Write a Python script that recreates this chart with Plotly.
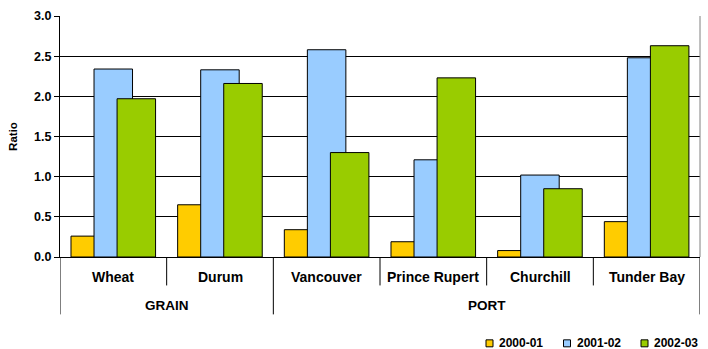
import plotly.graph_objects as go

categories = ["Wheat", "Durum", "Vancouver", "Prince Rupert", "Churchill", "Tunder Bay"]
groups = ["GRAIN", "GRAIN", "PORT", "PORT", "PORT", "PORT"]
series_names = ["2000-01", "2001-02", "2002-03"]
v2000_01 = [0.26, 0.65, 0.34, 0.19, 0.08, 0.44]
v2001_02 = [2.34, 2.33, 2.58, 1.21, 1.02, 2.48]
v2002_03 = [1.97, 2.16, 1.30, 2.23, 0.85, 2.63]
y_ticks = [0.0, 0.5, 1.0, 1.5, 2.0, 2.5, 3.0]

colors = ["#FFCC00", "#99CCFF", "#99CC00"]
offsets = [-0.397, -0.181, 0.035]
bar_w = 0.361
FONT = "Liberation Sans, Arial, sans-serif"

# plot-area geometry (pixels)
L, R, T, B = 60, 8, 16, 91.5
W_PX, H_PX = 708, 349
PW = W_PX - L - R
PH = H_PX - T - B


def px_x(px):
    return (px - L) / PW


def px_y(py):
    return (H_PX - B - py) / PH


xpos = list(range(len(categories)))
fig = go.Figure()
for name, vals, col, off in zip(series_names, [v2000_01, v2001_02, v2002_03], colors, offsets):
    fig.add_trace(go.Bar(
        x=xpos, y=vals, name=name, offset=off, width=bar_w, showlegend=False,
        marker=dict(color=col, line=dict(color="#000000", width=1)),
    ))

shapes = []
shapes.append(dict(type="line", xref="paper", yref="paper", x0=1, x1=1, y0=0, y1=1,
                   line=dict(color="#808080", width=1)))
for i in range(len(categories) - 1):
    b = i + 0.5
    same = groups[i] == groups[i + 1]
    ylow = px_y(286) if same else px_y(315)
    shapes.append(dict(type="line", xref="x", yref="paper", x0=b, x1=b, y0=0, y1=ylow,
                       line=dict(color="#000000", width=1)))
for b in [-0.5, len(categories) - 0.5]:
    shapes.append(dict(type="line", xref="x", yref="paper", x0=b, x1=b, y0=0, y1=px_y(315),
                       line=dict(color="#000000", width=1)))

annotations = []
for i, c in enumerate(categories):
    annotations.append(dict(x=i, y=px_y(278), xref="x", yref="paper", text=c, showarrow=False,
                            yanchor="middle",
                            font=dict(family=FONT, size=14, color="#000", weight="bold")))
seen = []
for g in groups:
    if g not in seen:
        seen.append(g)
for g in seen:
    idx = [i for i, gg in enumerate(groups) if gg == g]
    cx = (idx[0] + idx[-1]) / 2
    annotations.append(dict(x=cx, y=px_y(306), xref="x", yref="paper", text=g, showarrow=False,
                            yanchor="middle",
                            font=dict(family=FONT, size=13.5, color="#000", weight="bold")))

# manual legend
leg_sym_x = [486, 563.5, 641]
leg_y = 344
for name, col, sx in zip(series_names, colors, leg_sym_x):
    shapes.append(dict(type="rect", xref="paper", yref="paper",
                       x0=px_x(sx), x1=px_x(sx + 7), y0=px_y(leg_y + 3.5), y1=px_y(leg_y - 3.5),
                       fillcolor=col, line=dict(color="#000", width=1)))
    annotations.append(dict(x=px_x(sx + 11), y=px_y(leg_y), xref="paper", yref="paper",
                            text=name, showarrow=False, xanchor="left", yanchor="middle",
                            font=dict(family=FONT, size=12, color="#000", weight="bold")))

fig.update_layout(
    width=W_PX, height=H_PX,
    margin=dict(l=L, r=R, t=T, b=B),
    paper_bgcolor="white", plot_bgcolor="white",
    barmode="overlay", showlegend=False,
    font=dict(family=FONT, size=12, color="#000", weight="bold"),
    xaxis=dict(range=[-0.5, len(categories) - 0.5], showticklabels=False, ticks="",
               showgrid=False, zeroline=False, showline=True, linecolor="#000", linewidth=1),
    yaxis=dict(range=[0, 3.0], tickvals=y_ticks, ticktext=[f"{t:.1f}" for t in y_ticks],
               ticks="outside", ticklen=5, tickcolor="#000", showline=True, linecolor="#000",
               linewidth=1, showgrid=True, gridcolor="#000", gridwidth=1, zeroline=False,
               title=dict(text="Ratio", standoff=14,
                          font=dict(family=FONT, size=11.5, color="#000", weight="bold")),
               tickfont=dict(family=FONT, size=12.5, color="#000", weight="bold")),
    shapes=shapes, annotations=annotations,
)

fig.write_html("out.html")
